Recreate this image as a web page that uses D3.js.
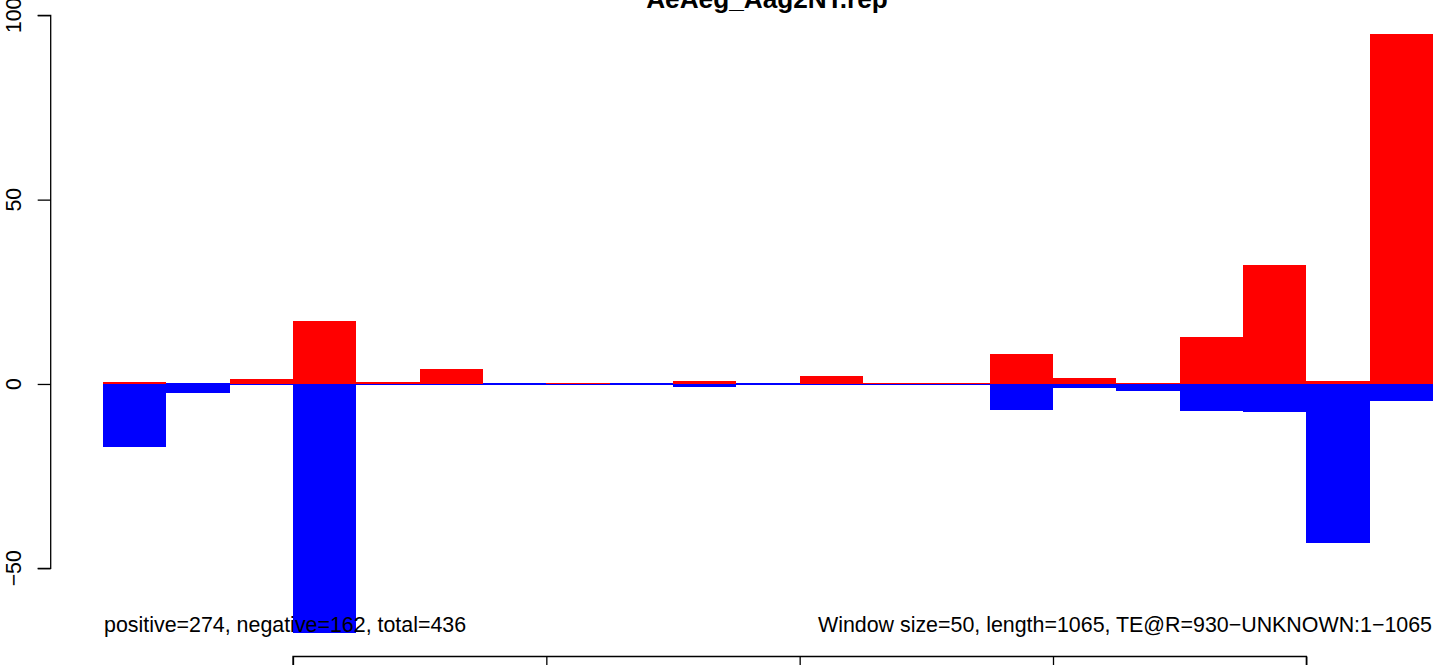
<!DOCTYPE html>
<html>
<head>
<meta charset="utf-8">
<script src="https://cdn.jsdelivr.net/npm/d3@7"></script>
<style>
  html, body { margin: 0; padding: 0; background: #fff; }
  svg { display: block; }
  text { font-family: "Liberation Sans", Arial, Helvetica, sans-serif; fill: #000; }
</style>
</head>
<body>
<svg id="chart" width="1444" height="665"></svg>
<script>
// ---- data ----
const title = "AeAeg_Aag2NT.rep";
const windowStarts = [50, 100, 150, 200, 250, 300, 350, 400, 450, 500, 550,
                      600, 650, 700, 750, 800, 850, 900, 950, 1000, 1050];
const windowSize = 50;
const positiveValues = [0.6, 0, 1.4, 17.1, 0.6, 4.1, 0, 0.3, 0, 0.9, 0,
                        2.2, 0.3, 0.3, 8.0, 1.6, 0.3, 12.8, 32.3, 0.8, 94.9];
const negativeValues = [-16.8, -2.1, 0, -67.4, 0, 0, 0, 0, 0, -0.5, 0,
                        0, 0, 0, -6.8, -0.8, -1.7, -7.1, -7.3, -43.0, -4.3];
const yTicks = [-50, 0, 50, 100];
const xTicks = [200, 400, 600, 800, 1000];
const leftNote = "positive=274, negative=162, total=436";
const rightNote = "Window size=50, length=1065, TE@R=930\u2212UNKNOWN:1\u22121065";

// ---- scales ----
const svg = d3.select("#chart");
const x = d3.scaleLinear().domain([50, 1100]).range([103, 1433]);
const y = d3.scaleLinear().domain([-50, 100]).range([568.3, 15.3]);
const y0 = y(0);

// negative (blue) bars, zero values leave a thin line at 0
svg.append("g").selectAll("rect")
  .data(negativeValues)
  .join("rect")
  .attr("x", (d, i) => x(windowStarts[i]))
  .attr("width", (d, i) => x(windowStarts[i] + windowSize) - x(windowStarts[i]))
  .attr("y", y0 - 0.6)
  .attr("height", d => Math.max(y(d) - y0, 0) + 1.6)
  .attr("fill", "#0000ff")
  .attr("shape-rendering", "crispEdges");

// positive (red) bars
svg.append("g").selectAll("rect")
  .data(positiveValues.map((v, i) => ({v, i})).filter(d => d.v > 0))
  .join("rect")
  .attr("x", d => x(windowStarts[d.i]))
  .attr("width", d => x(windowStarts[d.i] + windowSize) - x(windowStarts[d.i]))
  .attr("y", d => y(d.v))
  .attr("height", d => y0 - y(d.v))
  .attr("fill", "#ff0000")
  .attr("shape-rendering", "crispEdges");

// ---- y axis ----
const yAxis = svg.append("g")
  .attr("transform", "translate(50.7,0)")
  .call(d3.axisLeft(y).tickValues(yTicks).tickSize(13).tickFormat(""));
yAxis.select(".domain").attr("d", `M-13,${y(100)}H0V${y(-50)}H-13`)
  .attr("stroke", "#000").attr("stroke-width", 1.3).attr("fill", "none");
yAxis.selectAll(".tick line").attr("stroke", "#000").attr("stroke-width", 1.3);

svg.append("g").selectAll("text")
  .data(yTicks)
  .join("text")
  .attr("transform", d => `translate(20.5,${y(d)}) rotate(-90)`)
  .attr("text-anchor", "middle")
  .attr("font-size", 21.3)
  .text(d => d3.format("d")(d).replace("-", "\u2212"));

// ---- x axis (labels fall outside the picture) ----
const xAxis = svg.append("g")
  .attr("transform", "translate(0,656.5)")
  .call(d3.axisBottom(x).tickValues(xTicks).tickSize(13).tickFormat(""));
xAxis.select(".domain").attr("d", `M${x(200)},13V0H${x(1000)}V13`)
  .attr("stroke", "#000").attr("stroke-width", 1.3).attr("fill", "none");
xAxis.selectAll(".tick line").attr("stroke", "#000").attr("stroke-width", 1.3);

// ---- texts ----
svg.append("text")
  .attr("x", 767).attr("y", 7.5)
  .attr("text-anchor", "middle")
  .attr("font-size", 26.2)
  .attr("font-weight", "bold")
  .text(title);

svg.append("text")
  .attr("x", x(50) + 1).attr("y", 632)
  .attr("font-size", 21.4)
  .text(leftNote);

svg.append("text")
  .attr("x", x(1100) - 1).attr("y", 632)
  .attr("text-anchor", "end")
  .attr("font-size", 21.4)
  .text(rightNote);
</script>
</body>
</html>
